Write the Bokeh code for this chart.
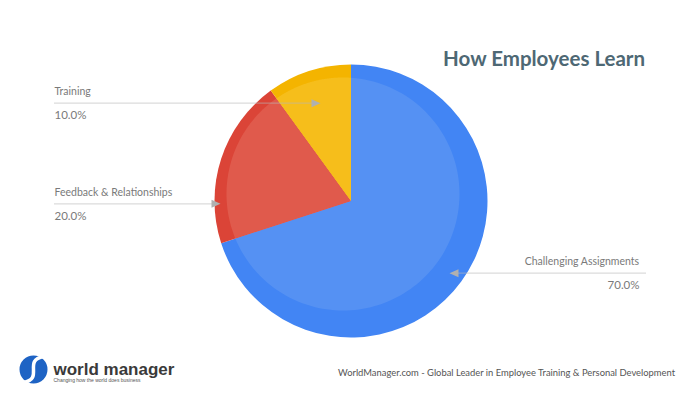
import numpy as np
from bokeh.plotting import figure
from bokeh.models import Range1d
from bokeh.core.properties import value
from bokeh.embed import file_html
from bokeh.resources import INLINE

# ---- data ----
categories = ["Challenging Assignments", "Feedback & Relationships", "Training"]
shares = [70.0, 20.0, 10.0]
outer_colors = ["#4285F4", "#DB4437", "#F4B400"]
inner_colors = ["#5591F3", "#E05A4C", "#F6BE1B"]
title_text = "How Employees Learn"
footer_text = "WorldManager.com - Global Leader in Employee Training & Personal Development"
brand_text = "world manager"
tagline_text = "Changing how the world does business"

# ---- layout (pixel units, y measured from top) ----
W, H = 700, 400
CX, CY, R = 350.5, 200.5, 136.5
ICX, ICY, IR = 342.5, 193.5, 116.5
label_x = [639, 54, 54]
label_align = ["right", "left", "left"]
line_y = [272.7, 203.3, 102.7]
line_from = [645, 54, 54]
arrow_tip = [449, 220, 320]


def Y(py):
    return H - py


p = figure(width=W, height=H, x_range=Range1d(0, W), y_range=Range1d(0, H),
           output_backend="svg", toolbar_location=None, min_border=0,
           x_axis_location=None, y_axis_location=None,
           outline_line_color=None, background_fill_color="white",
           border_fill_color="white")
p.grid.visible = False

# ---- pie ----
frac = np.array(shares) / sum(shares)
cum_end = np.cumsum(frac)
cum_start = cum_end - frac
starts = np.pi / 2 - 2 * np.pi * cum_end
ends = np.pi / 2 - 2 * np.pi * cum_start

p.wedge(x=CX, y=Y(CY), radius=R, start_angle=starts, end_angle=ends,
        direction="anticlock", fill_color=outer_colors, line_color=None)

dx, dy = ICX - CX, Y(ICY) - Y(CY)
xs_list, ys_list = [], []
for s, e in zip(starts, ends):
    th = np.linspace(s, e, 120)
    ux, uy = np.cos(th), np.sin(th)
    b = ux * dx + uy * dy
    t = b + np.sqrt(b * b - (dx * dx + dy * dy) + IR * IR)
    xs_list.append([CX] + list(CX + t * ux))
    ys_list.append([Y(CY)] + list(Y(CY) + t * uy))
p.patches(xs_list, ys_list, fill_color=inner_colors, line_color=None)

# ---- labels with dotted leader lines ----
grey_txt = "#7a7a7a"
for i, cat in enumerate(categories):
    ly = line_y[i]
    tip = arrow_tip[i]
    direction = 1 if tip > line_from[i] else -1
    base = tip - direction * 9
    p.segment(x0=line_from[i], y0=Y(ly), x1=base, y1=Y(ly),
              line_color="#b8b8b8", line_width=1.2, line_dash="1 1")
    p.patch([tip, base, base], [Y(ly), Y(ly) + 4, Y(ly) - 4],
            fill_color="#b0b0b0", line_color=None)
    p.text(x=[label_x[i]], y=[Y(ly - 12)], text=[cat], text_align=label_align[i],
           text_baseline="middle", text_font=value("Lato"), text_font_size="10.5px",
           text_color=grey_txt)
    p.text(x=[label_x[i]], y=[Y(ly + 11.5)], text=["%.1f%%" % shares[i]],
           text_align=label_align[i], text_baseline="middle",
           text_font=value("Lato"), text_font_size="11.5px", text_color=grey_txt)

# ---- title ----
p.text(x=[645], y=[Y(57)], text=[title_text], text_align="right",
       text_baseline="middle", text_font=value("Lato"), text_font_style="bold",
       text_font_size="20.5px", text_color="#4e6874")

# ---- footer ----
p.text(x=[675], y=[Y(372)], text=[footer_text], text_align="right",
       text_baseline="middle", text_font=value("Lato"), text_font_size="9.4px",
       text_color="#555555")

# ---- logo ----
p.circle(x=[33], y=[Y(369)], radius=14, fill_color="#1E63C4", line_color=None)
p.bezier(x0=[43], y0=[Y(356)], x1=[23], y1=[Y(382)], cx0=[22], cy0=[Y(360)],
         cx1=[44], cy1=[Y(378)], line_color="white", line_width=3.5)
p.text(x=[53], y=[Y(369)], text=[brand_text], text_align="left",
       text_baseline="middle", text_font=value("Liberation Sans"),
       text_font_style="bold", text_font_size="17px", text_color="#3a3a3a")
p.text(x=[53], y=[Y(379.5)], text=[tagline_text], text_align="left",
       text_baseline="middle", text_font=value("Liberation Sans"),
       text_font_size="5px", text_color="#555555")

open("out.html", "w").write(file_html(p, INLINE))
